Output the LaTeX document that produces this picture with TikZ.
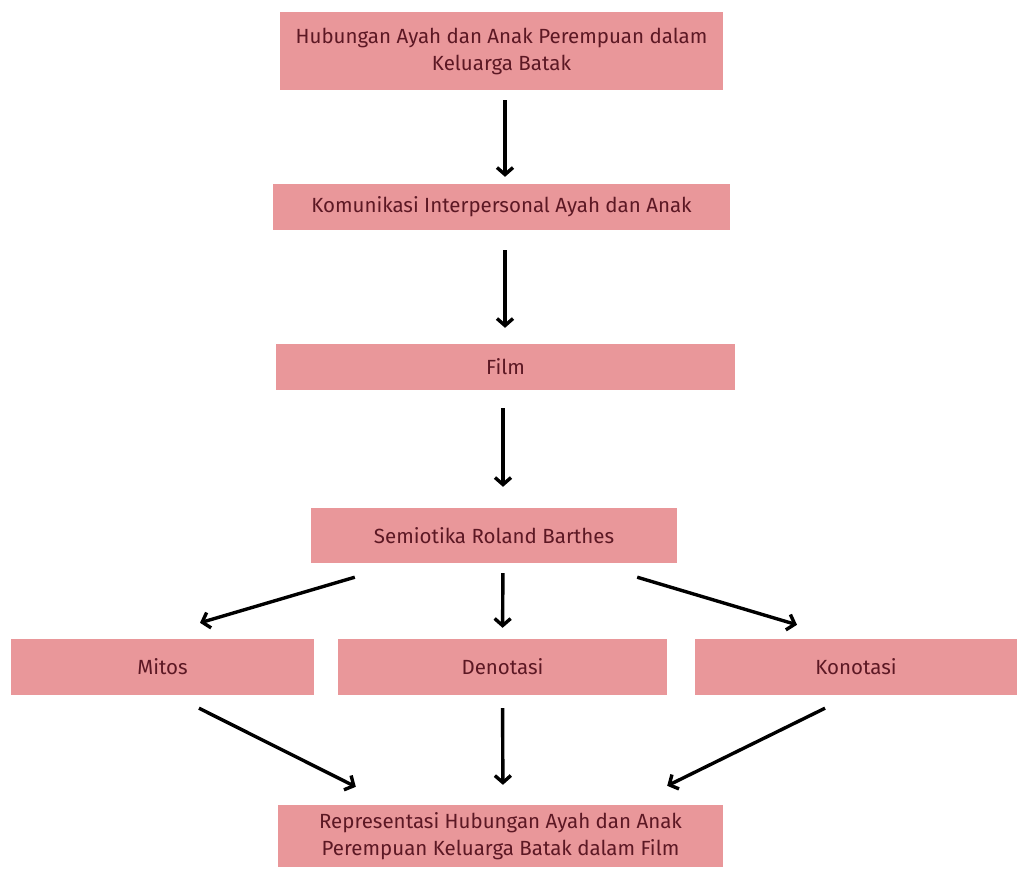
\documentclass[tikz,border=0pt]{standalone}
\usepackage{fontspec}
\setmainfont{Fira Sans}
\usetikzlibrary{arrows.meta,calc}
\definecolor{boxpink}{RGB}{233,151,154}
\definecolor{boxtext}{RGB}{92,24,36}
\begin{document}
\begin{tikzpicture}[x=1pt,y=-1pt,
  kotak/.style={fill=boxpink,text=boxtext,align=center,inner sep=0pt,
    font=\fontsize{20.5}{27}\selectfont},
  panah/.style={line width=3.4pt,-{Straight Barb[length=7pt,width=16pt,line width=3.4pt]}}]
\useasboundingbox (0,0) rectangle (1019,871);
\node[kotak,minimum width=443,minimum height=78] (hub) at (501.5,51)
  {Hubungan Ayah dan Anak Perempuan dalam\\Keluarga Batak};
\node[kotak,minimum width=457,minimum height=46] (kom) at (501.5,207)
  {Komunikasi Interpersonal Ayah dan Anak};
\node[kotak,minimum width=459,minimum height=46] (film) at (505.5,367) {Film};
\node[kotak,minimum width=366,minimum height=55] (sem) at (494,535.5)
  {Semiotika Roland Barthes};
\node[kotak,minimum width=303,minimum height=56] (mitos) at (162.5,667) {Mitos};
\node[kotak,minimum width=329,minimum height=56] (deno) at (502.5,667) {Denotasi};
\node[kotak,minimum width=322,minimum height=56] (kono) at (856,667) {Konotasi};
\node[kotak,minimum width=445,minimum height=62] (rep) at (500.5,836)
  {Representasi Hubungan Ayah dan Anak\\Perempuan Keluarga Batak dalam Film};
% vertikal
\draw[panah,shorten <=10pt,shorten >=7pt] ([xshift=3.5pt]hub.south) -- ([xshift=3.5pt]kom.north);
\draw[panah,shorten <=20pt,shorten >=16pt] ([xshift=3.5pt]kom.south) -- ([xshift=-0.5pt]film.north);
\draw[panah,shorten <=18pt,shorten >=21pt] ([xshift=-2.5pt]film.south) -- ([xshift=9pt]sem.north);
\draw[panah,shorten <=10pt,shorten >=11pt] ([xshift=9pt]sem.south) -- (deno.north);
\draw[panah,shorten <=13pt,shorten >=20pt] (deno.south) -- ([xshift=2.5pt]rep.north);
% diagonal
\draw[panah] ($(sem.south west)+(44,14)$) -- ($(mitos.north)+(37.5,-16)$);
\draw[panah] ($(sem.south east)+(-40,14)$) -- ($(kono.north)+(-59,-14)$);
\draw[panah] ($(mitos.south)+(36.5,13)$) -- ($(rep.north west)+(78,-18)$);
\draw[panah] ($(kono.south)+(-31,13)$) -- ($(rep.north east)+(-56,-19)$);
\end{tikzpicture}
\end{document}
